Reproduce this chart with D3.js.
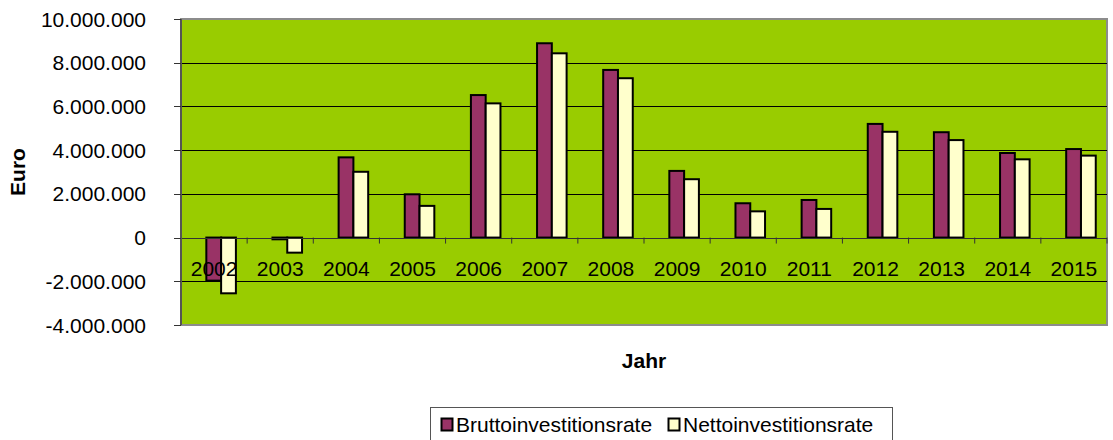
<!DOCTYPE html>
<html>
<head>
<meta charset="utf-8">
<script src="https://d3js.org/d3.v7.min.js"></script>
<style>
body { margin: 0; background: #fff; }
text { font-family: "Liberation Sans", Arial, sans-serif; font-size: 21px; fill: #000; }
</style>
</head>
<body>
<svg width="1113" height="440"></svg>
<script>
var years = ['2002','2003','2004','2005','2006','2007','2008','2009','2010','2011','2012','2013','2014','2015'];
var series = ['Bruttoinvestitionsrate', 'Nettoinvestitionsrate'];
var brutto = [-1970000, -80000, 3670000, 1980000, 6520000, 8890000, 7670000, 3050000, 1570000, 1720000, 5200000, 4820000, 3870000, 4050000];
var netto = [-2550000, -690000, 3010000, 1450000, 6140000, 8430000, 7290000, 2670000, 1200000, 1310000, 4840000, 4460000, 3580000, 3750000];
var yTicks = [-4000000, -2000000, 0, 2000000, 4000000, 6000000, 8000000, 10000000];
var colors = ['#993366', '#FFFFCC'];

var svg = d3.select('svg');
var plotLeft = 181, plotRight = 1107, plotTop = 19, plotBottom = 325;

var x = d3.scaleBand().domain(years).range([plotLeft, plotRight]);
var x1 = d3.scaleBand().domain(series)
    .range([x.bandwidth() * 0.383, x.bandwidth() * 0.83]);
var y = d3.scaleLinear().domain([-4000000, 10000000]).range([plotBottom, plotTop]);

var fmt = function(d) {
    return d3.format(',')(d).replace(/,/g, '.').replace('\u2212', '-');
};

// plot background
svg.append('rect')
    .attr('x', plotLeft).attr('y', plotTop)
    .attr('width', plotRight - plotLeft).attr('height', plotBottom - plotTop)
    .style('fill', '#99CC00')
    .style('stroke', '#8c8c8c')
    .style('stroke-width', 2);

// gridlines
svg.append('g')
    .selectAll('line')
    .data(yTicks.filter(function(d) { return d > -4000000 && d < 10000000; }))
    .enter()
    .append('line')
    .attr('x1', plotLeft).attr('x2', plotRight)
    .attr('y1', function(d) { return Math.round(y(d)) + 0.5; })
    .attr('y2', function(d) { return Math.round(y(d)) + 0.5; })
    .style('stroke', '#000')
    .style('stroke-width', 1);

// bars
var data = years.map(function(yr, i) {
    return {year: yr, values: [brutto[i], netto[i]]};
});
var groups = svg.append('g')
    .selectAll('g')
    .data(data)
    .enter()
    .append('g')
    .attr('transform', function(d) { return 'translate(' + x(d.year) + ',0)'; });
groups.selectAll('rect')
    .data(function(d) { return d.values.map(function(v, k) { return {s: series[k], v: v, k: k}; }); })
    .enter()
    .append('rect')
    .attr('x', function(d) { return x1(d.s); })
    .attr('width', x1.bandwidth())
    .attr('y', function(d) { return Math.min(y(d.v), y(0)); })
    .attr('height', function(d) { return Math.abs(y(d.v) - y(0)); })
    .style('fill', function(d) { return colors[d.k]; })
    .style('stroke', '#000')
    .style('stroke-width', 2);

// category axis on zero line
var xAxis = svg.append('g');
xAxis.append('line')
    .attr('x1', plotLeft).attr('x2', plotRight)
    .attr('y1', Math.round(y(0)) + 0.5).attr('y2', Math.round(y(0)) + 0.5)
    .style('stroke', '#333');
xAxis.selectAll('.tick')
    .data(years.concat(['end']))
    .enter()
    .append('line')
    .attr('x1', function(d) { return d == 'end' ? plotRight : x(d); })
    .attr('x2', function(d) { return d == 'end' ? plotRight : x(d); })
    .attr('y1', y(0)).attr('y2', y(0) + 6)
    .style('stroke', '#333');
xAxis.selectAll('text')
    .data(years)
    .enter()
    .append('text')
    .attr('x', function(d) { return x(d) + x.bandwidth() / 2; })
    .attr('y', y(0) + 38)
    .attr('text-anchor', 'middle')
    .text(function(d) { return d; });

// value axis
var yAxis = svg.append('g');
yAxis.append('line')
    .attr('x1', plotLeft).attr('x2', plotLeft)
    .attr('y1', plotTop).attr('y2', plotBottom)
    .style('stroke', '#555')
    .style('stroke-width', 2);
yAxis.selectAll('.tick')
    .data(yTicks)
    .enter()
    .append('line')
    .attr('x1', plotLeft - 7).attr('x2', plotLeft)
    .attr('y1', function(d) { return Math.round(y(d)) + 0.5; })
    .attr('y2', function(d) { return Math.round(y(d)) + 0.5; })
    .style('stroke', '#333');
yAxis.selectAll('text')
    .data(yTicks)
    .enter()
    .append('text')
    .attr('x', 146)
    .attr('y', function(d) { return y(d); })
    .attr('dy', '0.36em')
    .attr('text-anchor', 'end')
    .text(fmt);

// axis titles
svg.append('text')
    .attr('transform', 'translate(25,' + ((plotTop + plotBottom) / 2) + ') rotate(-90)')
    .attr('text-anchor', 'middle')
    .style('font-weight', 'bold')
    .text('Euro');
svg.append('text')
    .attr('x', (plotLeft + plotRight) / 2)
    .attr('y', 368)
    .attr('text-anchor', 'middle')
    .style('font-weight', 'bold')
    .text('Jahr');

// legend
var legend = svg.append('g');
legend.append('rect')
    .attr('x', 430.5).attr('y', 407.5)
    .attr('width', 462).attr('height', 40)
    .style('fill', '#fff')
    .style('stroke', '#555');
var legX = [441, 668];
var items = legend.selectAll('g')
    .data(series)
    .enter()
    .append('g')
    .attr('transform', function(d, i) { return 'translate(' + legX[i] + ',0)'; });
items.append('rect')
    .attr('x', 0.5).attr('y', 418.5)
    .attr('width', 11).attr('height', 12)
    .style('fill', function(d, i) { return colors[i]; })
    .style('stroke', '#000')
    .style('stroke-width', 2);
items.append('text')
    .attr('x', 15)
    .attr('y', 432)
    .text(function(d) { return d; });
</script>
</body>
</html>
